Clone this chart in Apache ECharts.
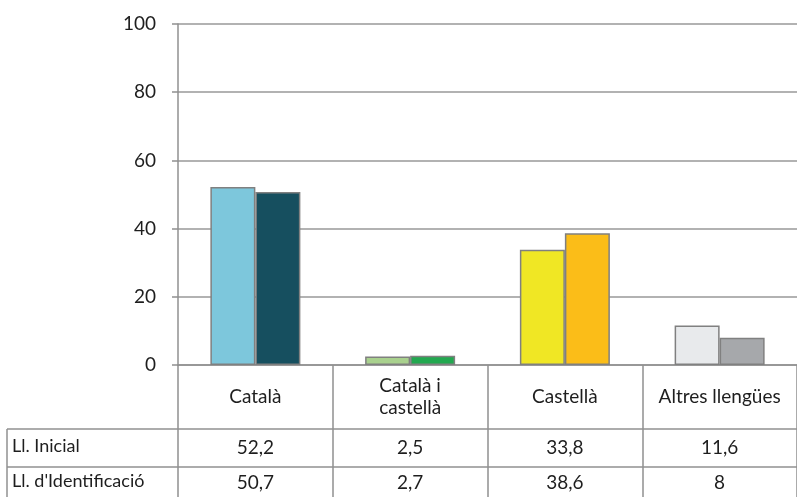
<!DOCTYPE html>
<html>
<head>
<meta charset="utf-8">
<script src="https://cdn.jsdelivr.net/npm/echarts@6/dist/echarts.min.js"></script>
<style>
  html, body { margin: 0; padding: 0; background: #fff; }
  #chart { width: 797px; height: 497px; }
</style>
</head>
<body>
<div id="chart"></div>
<script>
// categories and values
const categories = ['Català', 'Català i\ncastellà', 'Castellà', 'Altres llengües']
const rowNames = ['Ll. Inicial', "Ll. d'Identificació"]
const inicial = [52.2, 2.5, 33.8, 11.6]
const identificacio = [50.7, 2.7, 38.6, 8]

// colours per category (first / second series)
const coloursInicial = ['#7dc7dc', '#a9d18e', '#f0e724', '#e8eaec']
const coloursIdent = ['#164f5f', '#22a84f', '#fbbd18', '#a6a8ab']

const font = 'Lato, "Open Sans", sans-serif'
const textColor = '#1e1e1e'
const fmt = (v) => String(v).replace('.', ',')

const myChart = echarts.init(document.getElementById('chart'))

const barSeries = (name, values, colours) => ({
  name: name,
  type: 'bar',
  barWidth: 45,
  barGap: '0%',
  data: values.map((v, i) => ({
    value: v,
    itemStyle: { color: colours[i] }
  })),
  itemStyle: { borderColor: '#808080', borderWidth: 1.5 },
  silent: true
})

// table value rows are extra category axes sharing the grid
const valueAxis = (values, margin) => ({
  type: 'category',
  gridIndex: 0,
  position: 'bottom',
  data: categories,
  axisLine: { show: false },
  axisTick: { show: false },
  axisLabel: {
    interval: 0,
    margin: margin,
    verticalAlign: 'middle',
    fontFamily: font,
    fontSize: 19,
    color: textColor,
    formatter: (v, i) => fmt(values[i])
  }
})

const lineStyle = { stroke: '#909090', lineWidth: 1.5 }

myChart.setOption({
  animation: false,
  grid: { left: 178, right: -5, top: 24, bottom: 132 },
  xAxis: [
    {
      type: 'category',
      data: categories,
      axisLine: { lineStyle: { color: '#909090', width: 1.5 } },
      axisTick: {
        show: true,
        interval: 0,
        length: 140,
        lineStyle: { color: '#909090', width: 1.5 }
      },
      axisLabel: {
        interval: 0,
        margin: 32,
        verticalAlign: 'middle',
        lineHeight: 22,
        fontFamily: font,
        fontSize: 19,
        color: textColor
      }
    },
    valueAxis(inicial, 83),
    valueAxis(identificacio, 118)
  ],
  yAxis: {
    type: 'value',
    min: 0,
    max: 100,
    interval: 20,
    axisLine: { show: true, lineStyle: { color: '#909090', width: 1.5 } },
    axisTick: { show: true, length: 6, lineStyle: { color: '#909090', width: 1.5 } },
    splitLine: { lineStyle: { color: '#999', width: 1.5 } },
    axisLabel: {
      margin: 22,
      fontFamily: font,
      fontSize: 19,
      color: textColor
    }
  },
  series: [
    barSeries(rowNames[0], inicial, coloursInicial),
    barSeries(rowNames[1], identificacio, coloursIdent)
  ],
  graphic: [
    { type: 'line', shape: { x1: 7, y1: 429, x2: 797, y2: 429 }, style: lineStyle, silent: true },
    { type: 'line', shape: { x1: 7, y1: 467, x2: 797, y2: 467 }, style: lineStyle, silent: true },
    { type: 'line', shape: { x1: 7, y1: 429, x2: 7, y2: 497 }, style: lineStyle, silent: true },
    {
      type: 'text', left: 12, top: 437,
      style: { text: rowNames[0], font: '18px ' + font, fill: textColor }
    },
    {
      type: 'text', left: 12, top: 472,
      style: { text: rowNames[1], font: '18px ' + font, fill: textColor }
    }
  ]
})

window.addEventListener('resize', function () {
  myChart.resize()
})
</script>
</body>
</html>
